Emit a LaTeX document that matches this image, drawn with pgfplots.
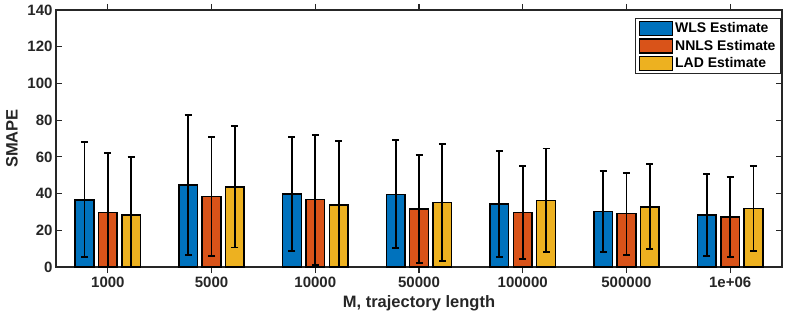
\documentclass[border=0pt]{standalone}
\usepackage{pgfplots}
\pgfplotsset{compat=1.18}
\usepackage{fontspec}
\setmainfont{Liberation Sans}
\definecolor{c1}{rgb}{0,0.447,0.741}
\definecolor{c2}{rgb}{0.85,0.325,0.098}
\definecolor{c3}{rgb}{0.929,0.694,0.125}
\definecolor{axgray}{rgb}{0.15,0.15,0.15}
\begin{document}
\begin{tikzpicture}
\begin{axis}[
  at={(0,0)}, anchor=south west,
  scale only axis, width=726pt, height=257pt,
  xmin=0.5, xmax=7.5, ymin=0, ymax=140,
  xtick={1,2,3,4,5,6,7},
  xticklabels={1000,5000,10000,50000,100000,500000,1e+06},
  ytick={0,20,40,60,80,100,120,140},
  tick align=inside,
  major tick length=6pt,
  tick style={axgray, line width=1.2pt},
  axis line style={axgray, line width=1.5pt},
  ticklabel style={font=\fontsize{15}{17}\selectfont\bfseries, text=axgray},
  /pgf/number format/assume math mode=true,
  label style={font=\fontsize{16.5}{18}\selectfont\bfseries, text=axgray},
  xlabel={M, trajectory length},
  ylabel={SMAPE},
  xlabel style={at={(axis description cs:0.5,-0.140)}, anchor=center},
  ylabel style={at={(axis description cs:-0.0606,0.5)}, anchor=center},
  ybar, bar width=0.18,
  every axis plot/.append style={draw=black, line width=1.5pt},
  error bars/y dir=both, error bars/y explicit,
  error bars/error mark=|,
  error bars/error bar style={line width=1.8pt, black},
  error bars/error mark options={line width=1.8pt, mark size=3.5pt, black},
  legend style={at={(axis description cs:1,1)}, anchor=north east, xshift=-1pt, yshift=-8pt,
    draw=axgray, line width=1pt, font=\fontsize{14}{16}\selectfont\bfseries,
    row sep=2pt, inner xsep=3pt, inner ysep=2pt},
  legend cell align=left,
  legend image code/.code={\draw[#1, line width=1.5pt] (0pt,-7pt) rectangle (33pt,7pt);},
]
\addplot[fill=c1, bar shift=-0.225] coordinates {
(1,36.6) +- (0,31.3)
(2,44.65) +- (0,38.1)
(3,39.7) +- (0,31.0)
(4,39.6) +- (0,29.4)
(5,34.4) +- (0,28.8)
(6,30.25) +- (0,22.05)
(7,28.45) +- (0,22.25)
};
\addlegendentry{WLS Estimate}
\addplot[fill=c2, bar shift=0] coordinates {
(1,29.6) +- (0,32.7)
(2,38.5) +- (0,32.3)
(3,36.7) +- (0,35.4)
(4,31.55) +- (0,29.25)
(5,29.75) +- (0,25.25)
(6,29.05) +- (0,22.35)
(7,27.25) +- (0,21.95)
};
\addlegendentry{NNLS Estimate}
\addplot[fill=c3, bar shift=0.225] coordinates {
(1,28.3) +- (0,31.8)
(2,43.6) +- (0,33.0)
(3,33.8) +- (0,34.8)
(4,35.05) +- (0,31.8)
(5,36.3) +- (0,28.3)
(6,32.75) +- (0,23.15)
(7,31.95) +- (0,23.25)
};
\addlegendentry{LAD Estimate}
\end{axis}
\pgfresetboundingbox
\path (-56pt,-49pt) rectangle (733pt,267pt);
\end{tikzpicture}
\end{document}
